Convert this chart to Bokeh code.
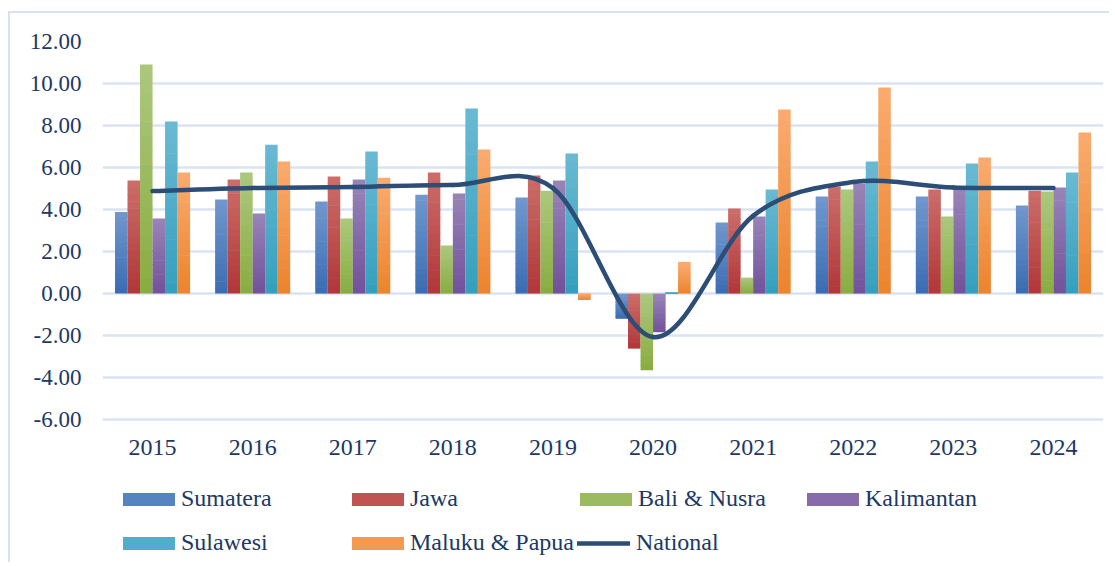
from bokeh.plotting import figure
from bokeh.models import (FixedTicker, NumeralTickFormatter, Legend, LegendItem,
                          ColumnDataSource, Range1d)
from bokeh.core.properties import value
from bokeh.embed import file_html
from bokeh.resources import INLINE

years = ["2015", "2016", "2017", "2018", "2019", "2020", "2021", "2022", "2023", "2024"]
sumatera   = [3.89, 4.48, 4.38, 4.71, 4.57, -1.20, 3.38, 4.62, 4.62, 4.19]
jawa       = [5.38, 5.43, 5.57, 5.76, 5.62, -2.62, 4.05, 5.10, 4.95, 4.90]
bali_nusra = [10.90, 5.76, 3.57, 2.29, 4.90, -3.65, 0.76, 4.95, 3.67, 4.86]
kalimantan = [3.57, 3.81, 5.43, 4.76, 5.38, -1.84, 3.67, 5.24, 5.00, 5.05]
sulawesi   = [8.19, 7.09, 6.76, 8.81, 6.67, 0.07, 4.95, 6.29, 6.19, 5.76]
maluku     = [5.76, 6.29, 5.52, 6.86, -0.30, 1.51, 8.76, 9.81, 6.48, 7.67]
national   = [4.88, 5.03, 5.07, 5.17, 5.02, -2.07, 3.70, 5.31, 5.05, 5.03]
y_ticks    = [-6, -4, -2, 0, 2, 4, 6, 8, 10, 12]

# (name, values, dark bottom colour, light top colour)
series = [("Sumatera", sumatera, "#3C6DB4", "#6F97CD"),
          ("Jawa", jawa, "#B2383A", "#CB6C69"),
          ("Bali & Nusra", bali_nusra, "#8AAD42", "#ABC77C"),
          ("Kalimantan", kalimantan, "#72539C", "#9883B6"),
          ("Sulawesi", sulawesi, "#35A0BE", "#69B9D2"),
          ("Maluku & Papua", maluku, "#EC852E", "#FAAA6E")]

TEXT = "#203864"
GRID = "#D9E3F3"
FONT = "Liberation Serif"
NSL = 16


def mix(c1, c2, t):
    a = [int(c1[i:i + 2], 16) for i in (1, 3, 5)]
    b = [int(c2[i:i + 2], 16) for i in (1, 3, 5)]
    return "#%02x%02x%02x" % tuple(round(a[k] + (b[k] - a[k]) * t) for k in range(3))


p = figure(frame_width=1001, frame_height=521, output_backend="svg", toolbar_location=None,
           x_range=Range1d(-0.5, 9.5), y_range=Range1d(-12.8, 12),
           min_border_left=92, min_border_top=28, min_border_right=6, min_border_bottom=0,
           background_fill_color="white", border_fill_color="white",
           margin=(11, 0, 0, 8),
           styles={"border-top": "2px solid #D6E2F3", "border-left": "2px solid #D6E2F3"})
p.outline_line_color = None

xs = list(range(len(years)))
n = len(series)
bw = 0.75 / n
bar_renderers = []
for k, (name, vals, dark, light) in enumerate(series):
    off = -0.375 + bw * (k + 0.5)
    bx, bb, bt, bc = [], [], [], []
    for i, v in zip(xs, vals):
        lo, hi = min(0.0, v), max(0.0, v)
        h = hi - lo
        for j in range(NSL):
            bx.append(i + off)
            bb.append(lo + h * j / NSL)
            top = lo + h * (j + 1) / NSL
            if j < NSL - 1:
                top = min(hi, top + 0.03)
            bt.append(top)
            bc.append(mix(dark, light, j / (NSL - 1)))
    src = ColumnDataSource(dict(x=bx, bottom=bb, top=bt, color=bc))
    r = p.vbar(x="x", top="top", bottom="bottom", width=bw, source=src,
               fill_color="color", line_color=None)
    bar_renderers.append((name, r))

# smooth national line (Bezier segments through the data points)
x0, y0, x1, y1, cx0, cy0, cx1, cy1 = [], [], [], [], [], [], [], []
m = len(national)
for i in range(m - 1):
    pm = national[i - 1] if i > 0 else national[i]
    pn = national[i + 2] if i + 2 < m else national[i + 1]
    xm = xs[i - 1] if i > 0 else xs[i]
    xn = xs[i + 2] if i + 2 < m else xs[i + 1]
    x0.append(xs[i]); y0.append(national[i])
    x1.append(xs[i + 1]); y1.append(national[i + 1])
    cx0.append(xs[i] + (xs[i + 1] - xm) / 6); cy0.append(national[i] + (national[i + 1] - pm) / 6)
    cx1.append(xs[i + 1] - (xn - xs[i]) / 6); cy1.append(national[i + 1] - (pn - national[i]) / 6)
bsrc = ColumnDataSource(dict(x0=x0, y0=y0, x1=x1, y1=y1, cx0=cx0, cy0=cy0, cx1=cx1, cy1=cy1))
br = p.bezier(x0="x0", y0="y0", x1="x1", y1="y1", cx0="cx0", cy0="cy0", cx1="cx1", cy1="cy1",
              source=bsrc, line_color="#2C4D75", line_width=4.5, line_cap="round")

# category labels under the -6 gridline
p.text(x=xs, y=[y_ticks[0]] * len(xs), text=years, y_offset=28,
       text_font=value(FONT), text_font_size="24px", text_color=TEXT,
       text_align="center", text_baseline="middle")
p.xaxis.visible = False

p.yaxis.ticker = FixedTicker(ticks=y_ticks)
p.yaxis.formatter = NumeralTickFormatter(format="0.00")
ax = p.yaxis[0]
ax.axis_line_color = None
ax.major_tick_line_color = None
ax.minor_tick_line_color = None
ax.major_tick_out = 0
ax.major_tick_in = 0
ax.major_label_text_font = FONT
ax.major_label_text_color = TEXT
ax.major_label_text_font_size = "23px"
ax.major_label_standoff = 21
p.xgrid.grid_line_color = None
p.ygrid.ticker = FixedTicker(ticks=y_ticks)
p.ygrid.grid_line_color = GRID
p.ygrid.grid_line_width = 2.5


def add_legend(label, renderer, loc, gw, gh, standoff, index=None):
    item = LegendItem(label=label, renderers=[renderer]) if index is None else \
        LegendItem(label=label, renderers=[renderer], index=index)
    lg = Legend(items=[item], location=loc, orientation="horizontal")
    lg.label_text_font = FONT
    lg.label_text_font_size = "24px"
    lg.label_text_color = TEXT
    lg.glyph_width = gw
    lg.glyph_height = gh
    lg.label_standoff = standoff
    lg.padding = 0
    lg.margin = 0
    lg.spacing = 0
    lg.border_line_color = None
    lg.background_fill_alpha = 0
    p.add_layout(lg, "center")


# legend slots (screen offsets from the frame's bottom-left corner)
slots = [(14, 50), (243, 50), (471, 50), (698, 50), (14, 6), (243, 6)]
for (name, r), loc in zip(bar_renderers, slots):
    add_legend(name, r, loc, 65, 16, 0, index=NSL // 2)
add_legend("National", br, (475, 6), 53, 16, 6)

open("out.html", "w").write(file_html(p, INLINE))
